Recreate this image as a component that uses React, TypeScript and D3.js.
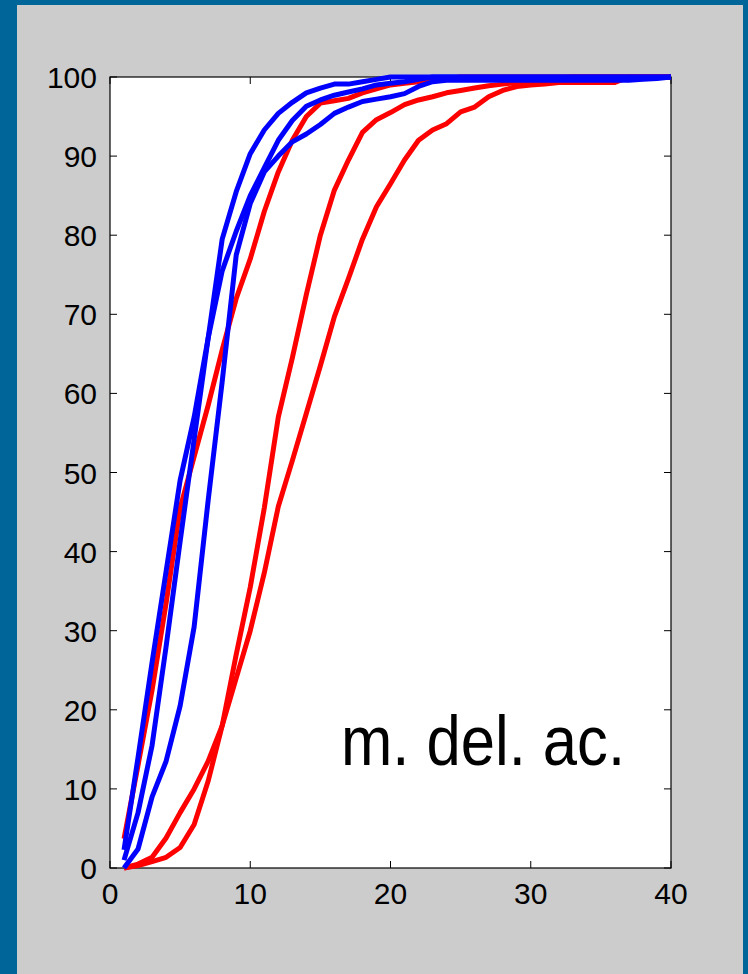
import React from "react";
import * as d3 from "d3";

// Cumulative percentage curves, one value per x = 1..40
const xValues = d3.range(1, 41);

const blueA = [2.3, 14, 26, 37.5, 49, 57, 67, 79.5, 85.5, 90.3, 93.3, 95.4, 96.8, 98, 98.6, 99.1, 99.1, 99.4, 99.7, 100,
  100, 100, 100, 100, 100, 100, 100, 100, 100, 100, 100, 100, 100, 100, 100, 100, 100, 100, 100, 100];
const blueB = [1, 7, 15.5, 28, 41.3, 54.2, 67, 75.5, 80.5, 85, 88.5, 92, 94.5, 96.3, 97.1, 97.7, 98.1, 98.5, 99, 99.2,
  99.4, 99.7, 100, 100, 100, 100, 100, 100, 100, 100, 100, 100, 100, 100, 100, 100, 100, 100, 100, 100];
const blueC = [0, 2.4, 9, 13.5, 20.5, 30.5, 46.5, 61.5, 77.5, 84, 88, 90, 91.8, 92.8, 94, 95.4, 96.2, 96.9, 97.2, 97.5,
  97.9, 98.8, 99.4, 99.6, 99.6, 99.6, 99.6, 99.6, 99.6, 99.6, 99.6, 99.6, 99.6, 99.6, 99.6, 99.6, 99.6, 99.7, 99.8, 100];
const redA = [3.7, 13, 22.5, 33.5, 45.5, 52, 58.5, 65.5, 72, 77, 83, 88, 92, 95, 96.7, 97, 97.3, 98, 98.5, 99,
  99.2, 99.4, 99.6, 99.8, 100, 100, 100, 100, 100, 100, 100, 100, 100, 100, 100, 100, 100, 100, 100, 100];
const redB = [0, 0.5, 1.35, 3.8, 7, 10, 13.5, 18, 27, 35.5, 45.5, 57, 64.5, 72.5, 80, 85.7, 89.5, 93, 94.6, 95.5,
  96.5, 97.1, 97.5, 98, 98.3, 98.6, 98.9, 99.1, 99.3, 99.5, 99.7, 99.9, 100, 100, 100, 100, 100, 100, 100, 100];
const redC = [0, 0.3, 0.8, 1.35, 2.6, 5.5, 11, 18, 24, 30, 37.3, 45.7, 51.5, 57.5, 63.5, 69.7, 74.5, 79.5, 83.6, 86.5,
  89.5, 92, 93.3, 94.1, 95.6, 96.2, 97.5, 98.3, 98.8, 99, 99.1, 99.3, 99.3, 99.3, 99.3, 99.3, 100, 100, 100, 100];

const redSeries = [redA, redB, redC];
const blueSeries = [blueA, blueB, blueC];

const xTicks = [0, 10, 20, 30, 40];
const yTicks = [0, 10, 20, 30, 40, 50, 60, 70, 80, 90, 100];
const label = "m. del. ac.";

const W = 748;
const H = 974;
const plot = { left: 110, right: 671, top: 77, bottom: 868 };

export default function App() {
  const x = d3.scaleLinear().domain([0, 40]).range([plot.left, plot.right]);
  const y = d3.scaleLinear().domain([0, 100]).range([plot.bottom, plot.top]);
  const line = d3
    .line<number>()
    .x((_, i) => x(xValues[i]))
    .y((d) => y(d));

  const tickLen = 7;
  const font = "'Liberation Sans', Arial, sans-serif";

  return (
    <div style={{ position: "absolute", left: 0, top: 0 }}>
      <svg width={W} height={H} style={{ display: "block" }}>
        <rect x={0} y={0} width={W} height={H} fill="#006699" />
        <rect x={17} y={5} width={726} height={H - 5} fill="#cccccc" />
        <rect
          x={plot.left}
          y={plot.top}
          width={plot.right - plot.left}
          height={plot.bottom - plot.top}
          fill="#ffffff"
          stroke="#000"
          strokeWidth={1.2}
        />
        {/* ticks on all four sides, pointing inward */}
        {yTicks.map((t) => (
          <g key={"y" + t}>
            <line x1={plot.left} x2={plot.left + tickLen} y1={y(t)} y2={y(t)} stroke="#000" />
            <line x1={plot.right} x2={plot.right - tickLen} y1={y(t)} y2={y(t)} stroke="#000" />
            <text
              x={97}
              y={y(t) + 11}
              textAnchor="end"
              fontFamily={font}
              fontSize={30}
              fill="#000"
            >
              {t}
            </text>
          </g>
        ))}
        {xTicks.map((t) => (
          <g key={"x" + t}>
            <line x1={x(t)} x2={x(t)} y1={plot.bottom} y2={plot.bottom - tickLen} stroke="#000" />
            <line x1={x(t)} x2={x(t)} y1={plot.top} y2={plot.top + tickLen} stroke="#000" />
            <text
              x={x(t)}
              y={904}
              textAnchor="middle"
              fontFamily={font}
              fontSize={30}
              fill="#000"
            >
              {t}
            </text>
          </g>
        ))}
        {redSeries.map((s, i) => (
          <path
            key={"r" + i}
            d={line(s) || ""}
            fill="none"
            stroke="#ff0000"
            strokeWidth={5}
            strokeLinejoin="round"
          />
        ))}
        {blueSeries.map((s, i) => (
          <path
            key={"b" + i}
            d={line(s) || ""}
            fill="none"
            stroke="#0000ff"
            strokeWidth={5}
            strokeLinejoin="round"
          />
        ))}
        <text
          x={341}
          y={765}
          fontFamily={font}
          fontSize={70}
          fill="#000"
          textLength={284}
          lengthAdjust="spacingAndGlyphs"
        >
          {label}
        </text>
      </svg>
    </div>
  );
}
